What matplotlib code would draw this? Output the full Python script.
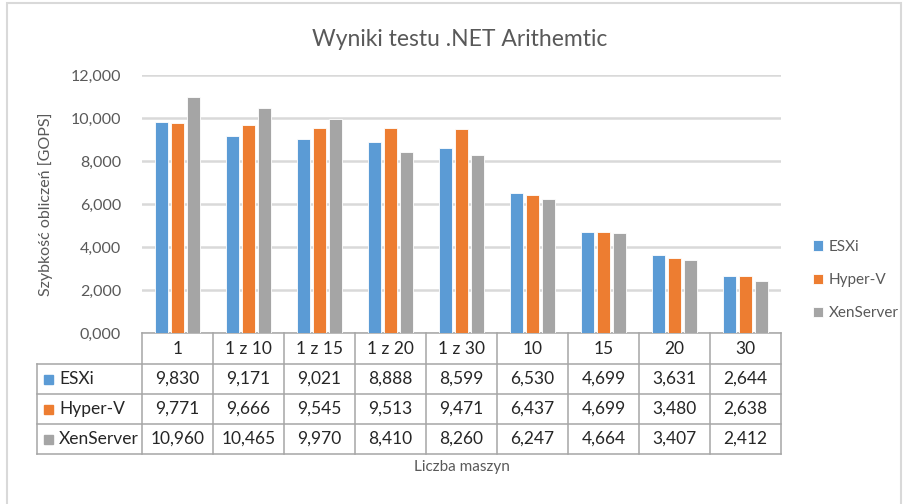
import numpy as np
import matplotlib
matplotlib.use("Agg")
import matplotlib.pyplot as plt
from matplotlib.patches import Rectangle
from matplotlib.transforms import blended_transform_factory

plt.rcParams['font.family'] = ['Lato', 'DejaVu Sans']

# --- Data ---
categories = ['1', '1 z 10', '1 z 15', '1 z 20', '1 z 30', '10', '15', '20', '30']
series = ['ESXi', 'Hyper-V', 'XenServer']
esxi = [9830, 9171, 9021, 8888, 8599, 6530, 4699, 3631, 2644]
hyperv = [9771, 9666, 9545, 9513, 9471, 6437, 4699, 3480, 2638]
xen = [10960, 10465, 9970, 8410, 8260, 6247, 4664, 3407, 2412]
yticks = [0, 2000, 4000, 6000, 8000, 10000, 12000]

colors = ['#5B9BD5', '#ED7D31', '#A5A5A5']
txt_gray = '#595959'
line_gray = '#A6A6A6'

W, H = 904, 504
fig = plt.figure(figsize=(W / 100, H / 100), dpi=100)

def fy(y):
    return 1 - y / H

def fx(x):
    return x / W

# chart border
fig.patches.append(Rectangle((fx(7), fy(520)), fx(894), 517 / H, transform=fig.transFigure,
                             fill=False, edgecolor='#D9D9D9', lw=1.5))

ax = fig.add_axes([fx(142), fy(333), fx(639), 258 / H])
x = np.arange(len(categories))
bw = 0.176
off = 0.225
bars = []
for i, (vals, c, name) in enumerate(zip([esxi, hyperv, xen], colors, series)):
    b = ax.bar(x + (i - 1) * off, vals, width=bw, color=c, label=name,
               edgecolor='white', linewidth=0.6, zorder=3)
    bars.append(b)

ax.set_xlim(-0.5, len(categories) - 0.5)
ax.set_ylim(0, 12000)
ax.set_yticks(yticks)
ax.set_yticklabels(['0,000' if v == 0 else f'{v // 1000},000' for v in yticks])
ax.tick_params(axis='y', length=0, pad=15, labelsize=11.5, labelcolor=txt_gray)
ax.set_xticks([])
for s in ax.spines.values():
    s.set_visible(False)
ax.grid(axis='y', color='#D9D9D9', lw=1.8, zorder=0)
ax.set_axisbelow(True)

ax.set_ylabel('Szybkość obliczeń [GOPS]', fontsize=11.5, color=txt_gray, labelpad=13)

fig.text(0.509, fy(40), 'Wyniki testu .NET Arithemtic', ha='center', va='center',
         fontsize=16.5, color=txt_gray)

# --- Data table below the plot ---
tr = blended_transform_factory(ax.transData, fig.transFigure)
col_w = 639 / len(categories)
left_x = -0.5 - (142 - 37) / col_w
right_x = len(categories) - 0.5
row_y = [333, 364, 394, 424, 454]

def hline(x0, x1, y):
    ax.plot([x0, x1], [fy(y), fy(y)], transform=tr, color=line_gray, lw=1.1, clip_on=False)

def vline(xv, y0, y1):
    ax.plot([xv, xv], [fy(y0), fy(y1)], transform=tr, color=line_gray, lw=1.1, clip_on=False)

hline(-0.5, right_x, row_y[0])
for y in row_y[1:]:
    hline(left_x, right_x, y)
vline(left_x, row_y[1], row_y[-1])
for k in range(len(categories) + 1):
    vline(k - 0.5, row_y[0], row_y[-1])

for k, cat in enumerate(categories):
    ax.text(k, fy((row_y[0] + row_y[1]) / 2), cat, transform=tr, ha='center', va='center',
            fontsize=12.5, color='#262626')

for r, (vals, c, name) in enumerate(zip([esxi, hyperv, xen], colors, series)):
    yc = (row_y[r + 1] + row_y[r + 2]) / 2
    fig.patches.append(Rectangle((fx(44), fy(yc + 4.5)), fx(9), 9 / H,
                                 transform=fig.transFigure, color=c))
    fig.text(fx(59), fy(yc), name, ha='left', va='center', fontsize=12.5, color='#262626')
    for k, v in enumerate(vals):
        ax.text(k, fy(yc), f'{v:,}', transform=tr, ha='center', va='center',
                fontsize=12.5, color='#262626')

fig.text(0.511, fy(467), 'Liczba maszyn', ha='center', va='center', fontsize=11, color=txt_gray)

fig.legend(handles=bars, labels=series, loc='center left', bbox_to_anchor=(fx(799), fy(280)),
           frameon=False, fontsize=11, labelcolor=txt_gray, handlelength=0.65,
           handleheight=0.65, handletextpad=0.4, labelspacing=1.25)

fig.savefig('out.png', dpi=100)
